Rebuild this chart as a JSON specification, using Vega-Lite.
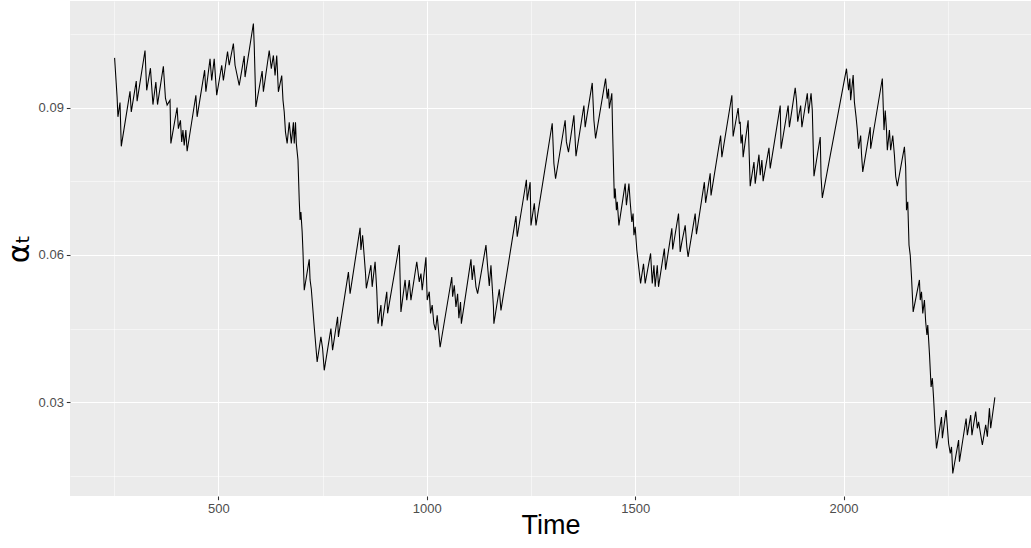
{
  "$schema": "https://vega.github.io/schema/vega-lite/v6.json",
  "autosize": {"type": "none"},
  "padding": {"left": 70, "top": 1, "right": 0, "bottom": 52},
  "width": 961,
  "height": 495,
  "background": "white",
  "config": {"view": {"fill": "#EBEBEB", "stroke": null}, "font": "Liberation Sans"},
  "data": {"values": [
    {"time":251,"alpha":0.1001},{"time":257,"alpha":0.0921},{"time":259,"alpha":0.0881},{"time":264,"alpha":0.0910},{"time":267,"alpha":0.0821},
    {"time":288,"alpha":0.0933},{"time":291,"alpha":0.0891},{"time":303,"alpha":0.0954},{"time":305,"alpha":0.0913},{"time":324,"alpha":0.1016},
    {"time":328,"alpha":0.0935},{"time":337,"alpha":0.0980},{"time":343,"alpha":0.0906},{"time":350,"alpha":0.0952},{"time":354,"alpha":0.0906},
    {"time":368,"alpha":0.0984},{"time":373,"alpha":0.0919},{"time":377,"alpha":0.0905},{"time":384,"alpha":0.0915},{"time":386,"alpha":0.0827},
    {"time":401,"alpha":0.0900},{"time":404,"alpha":0.0857},{"time":409,"alpha":0.0874},{"time":412,"alpha":0.0830},{"time":415,"alpha":0.0854},
    {"time":418,"alpha":0.0823},{"time":422,"alpha":0.0854},{"time":425,"alpha":0.0811},{"time":446,"alpha":0.0925},{"time":449,"alpha":0.0881},
    {"time":467,"alpha":0.0976},{"time":470,"alpha":0.0932},{"time":480,"alpha":0.0999},{"time":484,"alpha":0.0955},{"time":490,"alpha":0.0999},
    {"time":496,"alpha":0.0925},{"time":508,"alpha":0.0986},{"time":512,"alpha":0.0955},{"time":522,"alpha":0.1014},{"time":526,"alpha":0.0986},
    {"time":536,"alpha":0.1030},{"time":540,"alpha":0.0986},{"time":550,"alpha":0.0945},{"time":562,"alpha":0.1005},{"time":564,"alpha":0.0962},
    {"time":584,"alpha":0.1071},{"time":586,"alpha":0.1027},{"time":590,"alpha":0.0901},{"time":605,"alpha":0.0974},{"time":608,"alpha":0.0932},
    {"time":622,"alpha":0.1016},{"time":627,"alpha":0.0979},{"time":632,"alpha":0.1006},{"time":636,"alpha":0.0965},{"time":640,"alpha":0.1006},
    {"time":644,"alpha":0.0932},{"time":652,"alpha":0.0965},{"time":655,"alpha":0.0915},{"time":658,"alpha":0.0891},{"time":661,"alpha":0.0850},
    {"time":665,"alpha":0.0827},{"time":670,"alpha":0.0870},{"time":675,"alpha":0.0827},{"time":680,"alpha":0.0870},{"time":682,"alpha":0.0827},
    {"time":685,"alpha":0.0870},{"time":687,"alpha":0.0827},{"time":691,"alpha":0.0793},{"time":694,"alpha":0.0711},{"time":696,"alpha":0.0671},
    {"time":698,"alpha":0.0687},{"time":701,"alpha":0.0647},{"time":703,"alpha":0.0606},{"time":706,"alpha":0.0528},{"time":718,"alpha":0.0591},
    {"time":720,"alpha":0.0549},{"time":723,"alpha":0.0530},{"time":729,"alpha":0.0464},{"time":731,"alpha":0.0443},{"time":737,"alpha":0.0382},
    {"time":746,"alpha":0.0433},{"time":750,"alpha":0.0410},{"time":754,"alpha":0.0365},{"time":770,"alpha":0.0450},{"time":774,"alpha":0.0406},
    {"time":786,"alpha":0.0474},{"time":788,"alpha":0.0433},{"time":812,"alpha":0.0565},{"time":816,"alpha":0.0521},{"time":840,"alpha":0.0655},
    {"time":842,"alpha":0.0610},{"time":846,"alpha":0.0640},{"time":850,"alpha":0.0596},{"time":853,"alpha":0.0562},{"time":855,"alpha":0.0532},
    {"time":866,"alpha":0.0579},{"time":869,"alpha":0.0535},{"time":876,"alpha":0.0586},{"time":880,"alpha":0.0528},{"time":883,"alpha":0.0460},
    {"time":890,"alpha":0.0498},{"time":892,"alpha":0.0455},{"time":904,"alpha":0.0525},{"time":906,"alpha":0.0481},{"time":934,"alpha":0.0620},
    {"time":938,"alpha":0.0484},{"time":948,"alpha":0.0549},{"time":952,"alpha":0.0508},{"time":958,"alpha":0.0549},{"time":962,"alpha":0.0508},
    {"time":976,"alpha":0.0586},{"time":982,"alpha":0.0545},{"time":986,"alpha":0.0562},{"time":989,"alpha":0.0528},{"time":998,"alpha":0.0595},
    {"time":1001,"alpha":0.0508},{"time":1006,"alpha":0.0525},{"time":1009,"alpha":0.0481},{"time":1013,"alpha":0.0498},{"time":1017,"alpha":0.0460},
    {"time":1021,"alpha":0.0447},{"time":1025,"alpha":0.0477},{"time":1032,"alpha":0.0412},{"time":1060,"alpha":0.0555},{"time":1062,"alpha":0.0515},
    {"time":1066,"alpha":0.0538},{"time":1070,"alpha":0.0494},{"time":1074,"alpha":0.0521},{"time":1077,"alpha":0.0471},{"time":1081,"alpha":0.0504},
    {"time":1083,"alpha":0.0460},{"time":1106,"alpha":0.0591},{"time":1109,"alpha":0.0549},{"time":1113,"alpha":0.0579},{"time":1118,"alpha":0.0535},
    {"time":1122,"alpha":0.0521},{"time":1142,"alpha":0.0620},{"time":1146,"alpha":0.0576},{"time":1150,"alpha":0.0537},{"time":1154,"alpha":0.0579},
    {"time":1157,"alpha":0.0535},{"time":1160,"alpha":0.0494},{"time":1161,"alpha":0.0460},{"time":1174,"alpha":0.0530},{"time":1178,"alpha":0.0487},
    {"time":1214,"alpha":0.0679},{"time":1217,"alpha":0.0637},{"time":1239,"alpha":0.0753},{"time":1241,"alpha":0.0711},{"time":1248,"alpha":0.0748},
    {"time":1250,"alpha":0.0660},{"time":1258,"alpha":0.0705},{"time":1262,"alpha":0.0660},{"time":1301,"alpha":0.0868},{"time":1305,"alpha":0.0786},
    {"time":1309,"alpha":0.0755},{"time":1332,"alpha":0.0874},{"time":1335,"alpha":0.0830},{"time":1340,"alpha":0.0809},{"time":1353,"alpha":0.0884},
    {"time":1358,"alpha":0.0801},{"time":1377,"alpha":0.0904},{"time":1380,"alpha":0.0860},{"time":1397,"alpha":0.0950},{"time":1401,"alpha":0.0874},
    {"time":1405,"alpha":0.0837},{"time":1429,"alpha":0.0959},{"time":1433,"alpha":0.0918},{"time":1436,"alpha":0.0938},{"time":1438,"alpha":0.0898},
    {"time":1444,"alpha":0.0929},{"time":1446,"alpha":0.0847},{"time":1450,"alpha":0.0715},{"time":1452,"alpha":0.0735},{"time":1455,"alpha":0.0691},
    {"time":1457,"alpha":0.0708},{"time":1461,"alpha":0.0660},{"time":1476,"alpha":0.0745},{"time":1479,"alpha":0.0701},{"time":1485,"alpha":0.0745},
    {"time":1488,"alpha":0.0708},{"time":1492,"alpha":0.0667},{"time":1495,"alpha":0.0684},{"time":1497,"alpha":0.0640},{"time":1500,"alpha":0.0657},
    {"time":1504,"alpha":0.0610},{"time":1508,"alpha":0.0579},{"time":1513,"alpha":0.0542},{"time":1520,"alpha":0.0582},{"time":1524,"alpha":0.0542},
    {"time":1537,"alpha":0.0603},{"time":1541,"alpha":0.0542},{"time":1545,"alpha":0.0579},{"time":1548,"alpha":0.0535},{"time":1553,"alpha":0.0579},
    {"time":1556,"alpha":0.0535},{"time":1570,"alpha":0.0613},{"time":1573,"alpha":0.0570},{"time":1588,"alpha":0.0654},{"time":1590,"alpha":0.0611},
    {"time":1604,"alpha":0.0684},{"time":1608,"alpha":0.0606},{"time":1612,"alpha":0.0626},{"time":1620,"alpha":0.0660},{"time":1624,"alpha":0.0616},
    {"time":1627,"alpha":0.0596},{"time":1644,"alpha":0.0684},{"time":1647,"alpha":0.0642},{"time":1666,"alpha":0.0748},{"time":1669,"alpha":0.0706},
    {"time":1680,"alpha":0.0766},{"time":1682,"alpha":0.0721},{"time":1705,"alpha":0.0843},{"time":1708,"alpha":0.0799},{"time":1732,"alpha":0.0925},
    {"time":1735,"alpha":0.0841},{"time":1747,"alpha":0.0899},{"time":1750,"alpha":0.0867},{"time":1752,"alpha":0.0871},{"time":1754,"alpha":0.0827},
    {"time":1757,"alpha":0.0845},{"time":1759,"alpha":0.0799},{"time":1771,"alpha":0.0874},{"time":1776,"alpha":0.0740},{"time":1785,"alpha":0.0789},
    {"time":1788,"alpha":0.0745},{"time":1797,"alpha":0.0804},{"time":1800,"alpha":0.0762},{"time":1804,"alpha":0.0793},{"time":1807,"alpha":0.0750},
    {"time":1821,"alpha":0.0818},{"time":1824,"alpha":0.0776},{"time":1848,"alpha":0.0904},{"time":1850,"alpha":0.0816},{"time":1867,"alpha":0.0904},
    {"time":1870,"alpha":0.0860},{"time":1884,"alpha":0.0940},{"time":1887,"alpha":0.0915},{"time":1890,"alpha":0.0871},{"time":1897,"alpha":0.0904},
    {"time":1900,"alpha":0.0860},{"time":1913,"alpha":0.0929},{"time":1916,"alpha":0.0888},{"time":1922,"alpha":0.0929},{"time":1925,"alpha":0.0894},
    {"time":1929,"alpha":0.0760},{"time":1944,"alpha":0.0840},{"time":1946,"alpha":0.0759},{"time":1949,"alpha":0.0716},{"time":2007,"alpha":0.0979},
    {"time":2012,"alpha":0.0935},{"time":2015,"alpha":0.0959},{"time":2017,"alpha":0.0915},{"time":2023,"alpha":0.0966},{"time":2026,"alpha":0.0911},
    {"time":2030,"alpha":0.0881},{"time":2033,"alpha":0.0854},{"time":2036,"alpha":0.0816},{"time":2041,"alpha":0.0843},{"time":2043,"alpha":0.0806},
    {"time":2046,"alpha":0.0769},{"time":2064,"alpha":0.0860},{"time":2065,"alpha":0.0816},{"time":2093,"alpha":0.0959},{"time":2097,"alpha":0.0854},
    {"time":2100,"alpha":0.0894},{"time":2103,"alpha":0.0854},{"time":2105,"alpha":0.0813},{"time":2110,"alpha":0.0854},{"time":2113,"alpha":0.0813},
    {"time":2118,"alpha":0.0843},{"time":2122,"alpha":0.0803},{"time":2125,"alpha":0.0760},{"time":2129,"alpha":0.0740},{"time":2146,"alpha":0.0820},
    {"time":2149,"alpha":0.0779},{"time":2151,"alpha":0.0691},{"time":2154,"alpha":0.0708},{"time":2157,"alpha":0.0620},{"time":2160,"alpha":0.0599},
    {"time":2163,"alpha":0.0555},{"time":2167,"alpha":0.0484},{"time":2182,"alpha":0.0549},{"time":2184,"alpha":0.0508},{"time":2187,"alpha":0.0525},
    {"time":2190,"alpha":0.0481},{"time":2194,"alpha":0.0508},{"time":2197,"alpha":0.0464},{"time":2200,"alpha":0.0437},{"time":2202,"alpha":0.0457},
    {"time":2206,"alpha":0.0400},{"time":2210,"alpha":0.0331},{"time":2213,"alpha":0.0349},{"time":2216,"alpha":0.0308},{"time":2220,"alpha":0.0243},
    {"time":2223,"alpha":0.0206},{"time":2235,"alpha":0.0270},{"time":2237,"alpha":0.0227},{"time":2246,"alpha":0.0284},{"time":2252,"alpha":0.0216},
    {"time":2256,"alpha":0.0196},{"time":2259,"alpha":0.0209},{"time":2262,"alpha":0.0155},{"time":2276,"alpha":0.0223},{"time":2278,"alpha":0.0179},
    {"time":2294,"alpha":0.0267},{"time":2297,"alpha":0.0233},{"time":2305,"alpha":0.0274},{"time":2308,"alpha":0.0233},{"time":2317,"alpha":0.0281},
    {"time":2321,"alpha":0.0247},{"time":2324,"alpha":0.0260},{"time":2333,"alpha":0.0213},{"time":2341,"alpha":0.0254},{"time":2345,"alpha":0.0230},
    {"time":2350,"alpha":0.0288},{"time":2353,"alpha":0.0247},{"time":2363,"alpha":0.0310}
  ]},
  "mark": {"type": "line", "color": "black", "strokeWidth": 1.07},
  "encoding": {
    "x": {
      "field": "time", "type": "quantitative",
      "scale": {"domain": [144, 2449.7], "nice": false, "zero": false},
      "axis": {
        "title": "Time",
        "values": [250, 500, 750, 1000, 1250, 1500, 1750, 2000, 2250],
        "format": "d",
        "labelExpr": "datum.value % 500 === 0 ? datum.label : ''",
        "labelOverlap": false, "labelFlush": false,
        "domain": false,
        "grid": true, "gridColor": "white",
        "gridWidth": {"condition": {"test": "datum.value % 500 === 0", "value": 1.07}, "value": 0.53},
        "tickColor": {"condition": {"test": "datum.value % 500 === 0", "value": "#333333"}, "value": "transparent"},
        "tickSize": 3.7, "tickWidth": 1.07,
        "labelColor": "#4D4D4D", "labelFontSize": 13, "labelPadding": 2.9, "labelFont": "Liberation Sans",
        "titleFontSize": 27, "titleColor": "black", "titleFontWeight": "normal", "titleFont": "Liberation Sans",
        "titleY": 37, "titleBaseline": "alphabetic"
      }
    },
    "y": {
      "field": "alpha", "type": "quantitative",
      "scale": {"domain": [0.01092, 0.11168], "nice": false, "zero": false},
      "axis": {
        "title": "αₜ",
        "values": [0.015, 0.03, 0.045, 0.06, 0.075, 0.09, 0.105],
        "format": ".2f",
        "labelExpr": "round(datum.value * 1000) % 30 === 0 ? datum.label : ''",
        "labelOverlap": false, "labelFlush": false,
        "domain": false,
        "grid": true, "gridColor": "white",
        "gridWidth": {"condition": {"test": "round(datum.value * 1000) % 30 === 0", "value": 1.07}, "value": 0.53},
        "tickColor": {"condition": {"test": "round(datum.value * 1000) % 30 === 0", "value": "#333333"}, "value": "transparent"},
        "tickSize": 3.7, "tickWidth": 1.07,
        "labelColor": "#4D4D4D", "labelFontSize": 13, "labelPadding": 2.9, "labelFont": "Liberation Sans",
        "titleFontSize": 30, "titleColor": "black", "titleFontWeight": "normal", "titleFont": "DejaVu Sans",
        "titleX": -42, "titleY": 247.5, "titleAngle": 270, "titleAlign": "center", "titleBaseline": "alphabetic"
      }
    }
  }
}
